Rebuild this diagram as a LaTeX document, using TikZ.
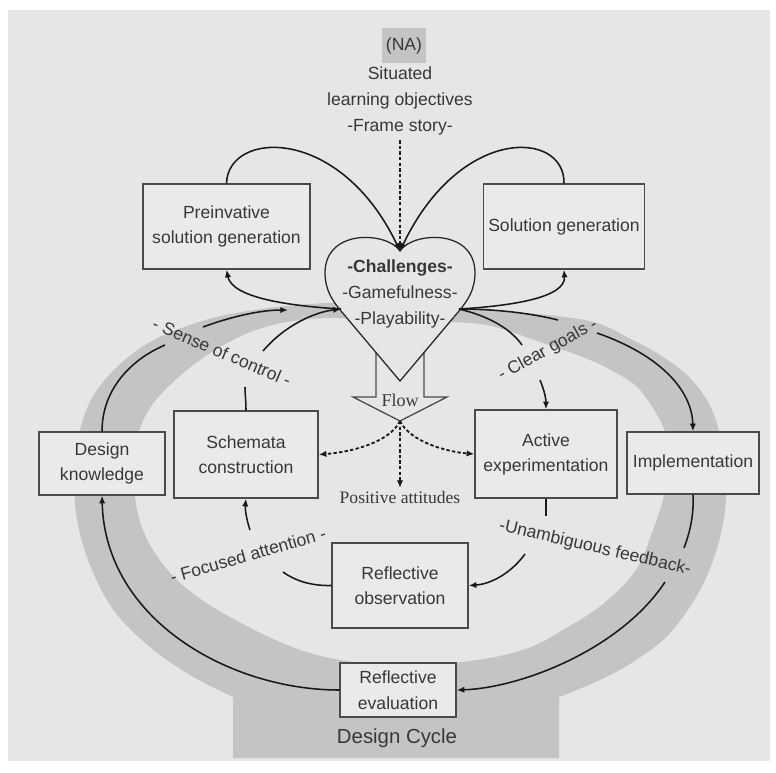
\documentclass[tikz,border=0pt]{standalone}
\usepackage{fontspec}
\setmainfont{Liberation Sans}
\newfontfamily\serifface{Liberation Serif}
\usetikzlibrary{arrows.meta}
\definecolor{pagegray}{HTML}{E6E6E6}
\definecolor{boxgray}{HTML}{EAEAEA}
\definecolor{bandgray}{HTML}{C4C4C4}
\definecolor{inkgray}{HTML}{383838}
\definecolor{framegray}{HTML}{4A4A4A}
\tikzset{%
  >={Latex[width=4.5pt,length=5.5pt]},
  % Specifications for style of nodes:
        cyclebox/.style = {rectangle, draw=framegray, line width=0.9pt,
                           fill=boxgray, align=center, text=inkgray,
                           font=\fontsize{12.5}{17.8}\selectfont},
       ringlabel/.style = {text=inkgray, inner sep=0pt,
                           font=\fontsize{12.5}{15}\selectfont},
        loopline/.style = {draw=black!90, line width=1.1pt},
        flowline/.style = {loopline, line width=1.3pt,
                           dash pattern=on 2.4pt off 1.6pt},
}
\begin{document}
\begin{tikzpicture}[x=0.025cm, y=-0.025cm]
  \useasboundingbox (0,0) rectangle (776,772);
  \fill[white] (0,0) rectangle (776,772);
  \fill[pagegray] (8,10) rectangle (770,761);

  % the grey design cycle ring
  \fill[bandgray, even odd rule]
    plot[smooth, tension=0.6] coordinates {(400,300) (345,302) (287,306) (230,314) (190,325) (150,342) (117,367) (92,398) (78,438) (74,480) (78,525) (92,570) (115,612) (150,647) (190,675) (233,697)}
    -- (233,758) -- (559,758) --
    plot[smooth, tension=0.6] coordinates {(559,697) (600,680) (636,660) (670,633) (700,590) (718,545) (726,500) (724,455) (712,410) (690,378) (660,355) (627,337) (597,323) (557,316) (500,311) (467,309) (400,300)}
    -- cycle
    plot[smooth cycle, tension=0.6] coordinates {(400,322) (345,318) (300,320) (262,328) (233,340) (200,360) (170,385) (150,408) (138,435) (134,470) (137,510) (150,545) (174,577) (205,602) (241,623) (280,642) (317,655) (360,663) (400,666) (440,664) (490,658) (531,647) (563,630) (603,604) (636,570) (653,530) (664,495) (668,460) (667,440) (660,420) (640,390) (620,375) (590,360) (540,342) (480,324)};

  % flow arrow, then the heart on top of it
  \draw[line width=0.9pt, draw=framegray, fill=pagegray] (376,330) -- (376,397) -- (353,397) -- (400,421) -- (447,397) -- (424,397) -- (424,330);
  \coordinate (flowtip) at (400,421);
  \node (flow) [text=inkgray, font=\serifface\fontsize{12.8}{14}\selectfont] at (400,400) {Flow};
  \draw[line width=0.9pt, draw=black!85, fill=pagegray] (400,251)
     .. controls (388,232) and (326,228) .. (325,272)
     .. controls (325,290) and (332,300) .. (341,311)
     -- (400,381) -- (459,311)
     .. controls (468,300) and (475,290) .. (475,272)
     .. controls (474,228) and (412,232) .. (400,251) -- cycle;
  \coordinate (dip) at (400,251);
  \coordinate (hl) at (341,309);
  \coordinate (hr) at (459,309);
  \node (chal) [text=inkgray, align=center, font=\fontsize{12.5}{18.5}\selectfont] at (400,294) {\textbf{-Challenges-}\\-Gamefulness-\\-Playability-};

  % Specification of nodes (position, etc.)
  \node (na)		[fill=bandgray, text=inkgray, minimum width=1.1cm, minimum height=0.875cm, inner sep=0pt, font=\fontsize{12.5}{15}\selectfont] at (404,45.5) {(NA)};
  \node (story)		[text=inkgray, align=center, font=\fontsize{12.5}{18.5}\selectfont] at (400,101) {Situated\\learning objectives\\-Frame story-};
  \node (pre)		[cyclebox, minimum width=4.175cm, minimum height=2.125cm] at (226.5,226.5) {Preinvative\\solution generation};
  \node (sol)		[cyclebox, minimum width=3.95cm, minimum height=2.125cm] at (564,226.5) {Solution generation};
  \node (dk)		[cyclebox, minimum width=3.15cm, minimum height=1.575cm] at (102,463.5) {Design\\knowledge};
  \node (sch)		[cyclebox, minimum width=3.6cm, minimum height=2.175cm] at (246,454.5) {Schemata\\construction};
  \node (act)		[cyclebox, minimum width=3.55cm, minimum height=2.2cm] at (546,454) {Active\\experimentation};
  \node (imp)		[cyclebox, minimum width=3.3cm, minimum height=1.55cm] at (693,463) {Implementation};
  \node (obs)		[cyclebox, minimum width=3.4cm, minimum height=2.125cm] at (400,585.5) {Reflective\\observation};
  \node (eva)		[cyclebox, minimum width=2.9cm, minimum height=1.35cm, font=\fontsize{12.5}{18.5}\selectfont] at (398,690) {Reflective\\evaluation};
  \node (cycle)		[text=inkgray, font=\fontsize{14.5}{16}\selectfont] at (397,738) {Design Cycle};
  \node (attitudes)	[text=inkgray, anchor=north, inner sep=2pt, font=\serifface\fontsize{12.5}{14}\selectfont] at (400,488) {Positive attitudes};

  % connectors around the heart
  \draw[flowline, ->]	(story.south) -- (dip);
  \draw[loopline, ->]	(pre.north) .. controls (228,130) and (340,125) .. (dip);
  \draw[loopline, ->]	(sol.north) .. controls (565,130) and (460,125) .. (dip);
  \draw[loopline, ->]	(hl) .. controls (290,306) and (232,298) .. (pre.south);
  \draw[loopline, ->]	(hr) .. controls (510,306) and (566,298) .. (sol.south);
  \draw[flowline, ->]	(flowtip) .. controls (390,442) and (352,452) .. (sch.east);
  \draw[flowline, ->]	(flowtip) .. controls (410,442) and (448,452) .. (act.west);
  \draw[flowline, ->]	(flowtip) -- (attitudes.north);

  % arcs, broken where a label crosses them
  \coordinate (a1) at (165,345); \coordinate (a2) at (203,327); \coordinate (a3) at (288,310);
  \draw[loopline]		(dk.north) .. controls (102,390) and (130,360) .. (a1);
  \draw[loopline, ->]	(a2) .. controls (230,317) and (260,310) .. (a3);
  \coordinate (b1) at (245,387); \coordinate (b2) at (263,351);
  \draw[loopline]		(sch.north) .. controls (246,400) and (245,395) .. (b1);
  \draw[loopline, ->]	(b2) .. controls (285,325) and (315,312) .. (hl);
  \coordinate (e1) at (558,320); \coordinate (e2) at (597,333);
  \draw[loopline]		(hr) .. controls (495,309) and (530,313) .. (e1);
  \draw[loopline, ->]	(e2) .. controls (660,355) and (692,390) .. (imp.north);
  \coordinate (f1) at (522,345); \coordinate (f2) at (540,380);
  \draw[loopline]		(hr) .. controls (488,316) and (510,328) .. (f1);
  \draw[loopline, ->]	(f2) .. controls (545,392) and (546,400) .. (act.north);
  \coordinate (g1) at (684,548); \coordinate (g2) at (665,582);
  \draw[loopline]		(imp.south) .. controls (694,515) and (690,532) .. (g1);
  \draw[loopline, ->]	(g2) .. controls (620,650) and (520,688) .. (eva.east);
  \draw[loopline, ->]	(eva.west) .. controls (230,690) and (105,620) .. (dk.south);
  \coordinate (i1) at (546,516); \coordinate (i2) at (525,554);
  \draw[loopline]		(act.south) -- (i1);
  \draw[loopline, ->]	(i2) .. controls (512,572) and (492,584) .. (obs.east);
  \coordinate (j1) at (283,572); \coordinate (j2) at (250,530);
  \draw[loopline]		(obs.west) .. controls (310,586) and (294,580) .. (j1);
  \draw[loopline, ->]	(j2) .. controls (246,518) and (245,508) .. (sch.south);

  % labels on the ring
  \node (control)	[ringlabel, rotate=-23] at (222,352) {- Sense of control -};
  \node (goals)		[ringlabel, rotate=29] at (548,350) {- Clear goals -};
  \node (attention)	[ringlabel, rotate=16] at (248,555) {- Focused attention -};
  \node (feedback)	[ringlabel, rotate=-13] at (595,548) {-Unambiguous feedback-};
\end{tikzpicture}
\end{document}
